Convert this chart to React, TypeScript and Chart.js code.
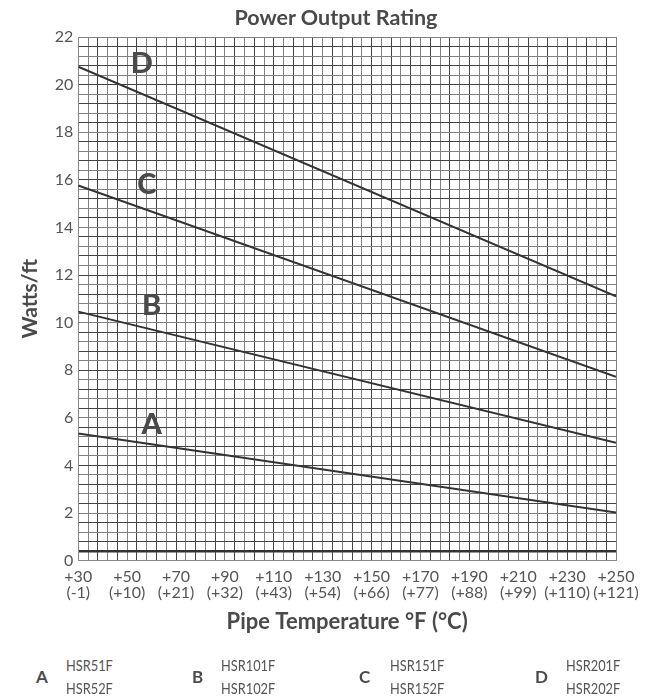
import { useEffect, useRef } from 'react';
import { Chart, registerables } from 'chart.js';
Chart.register(...registerables);

// Data (°F on x, Watts/ft on y) — straight rating lines
const tempF = [30, 250];
const seriesA = [5.34, 2.02];
const seriesB = [10.46, 4.95];
const seriesC = [15.76, 7.72];
const seriesD = [20.75, 11.1];
const seriesNames = ['A', 'B', 'C', 'D'];

// Tick labels
const xTickF = [30, 50, 70, 90, 110, 130, 150, 170, 190, 210, 230, 250];
const xTickC = ['-1', '+10', '+21', '+32', '+43', '+54', '+66', '+77', '+88', '+99', '+110', '+121'];
const yTickLabels = [0, 2, 4, 6, 8, 10, 12, 14, 16, 18, 20, 22];

// In-chart curve letters (data coords)
const letterX = [60, 60, 58, 56];
const letterY = [5.7, 10.7, 15.8, 20.9];

// Legend models
const legendTop = ['HSR51F', 'HSR101F', 'HSR151F', 'HSR201F'];
const legendBottom = ['HSR52F', 'HSR102F', 'HSR152F', 'HSR202F'];

const FONT = 'Lato, "Open Sans", sans-serif';
const TEXT = '#4a4a4a';
const LINE = '#333';

const letterPlugin = {
  id: 'curveLetters',
  afterDatasetsDraw(chart: any) {
    const { ctx, scales } = chart;
    ctx.save();
    ctx.font = `900 29px ${FONT}`;
    ctx.fillStyle = TEXT;
    ctx.textAlign = 'center';
    ctx.textBaseline = 'middle';
    seriesNames.forEach((n, i) => {
      ctx.fillText(n, scales.x.getPixelForValue(letterX[i]), scales.y.getPixelForValue(letterY[i]));
    });
    ctx.restore();
  },
};

function RatingChart() {
  const ref = useRef<HTMLCanvasElement | null>(null);
  useEffect(() => {
    if (!ref.current) return;
    const mk = (vals: number[]) => tempF.map((x, i) => ({ x, y: vals[i] }));
    const chart = new Chart(ref.current, {
      type: 'scatter',
      data: {
        datasets: [seriesA, seriesB, seriesC, seriesD].map((v, i) => ({
          label: seriesNames[i],
          data: mk(v),
          showLine: true,
          borderColor: LINE,
          backgroundColor: LINE,
          borderWidth: 2,
          pointRadius: 0,
        })),
      },
      options: {
        animation: false,
        responsive: true,
        maintainAspectRatio: false,
        layout: { padding: { left: 12, right: 35, top: 37, bottom: 8 } },
        plugins: {
          legend: { display: false },
          tooltip: { enabled: false },
          title: { display: false },
        },
        scales: {
          x: {
            type: 'linear',
            min: 30,
            max: 250,
            afterBuildTicks: (axis: any) => {
              const t = [];
              for (let v = 30; v <= 250; v += 4) t.push({ value: v });
              axis.ticks = t;
            },
            border: { display: true, color: '#888', width: 1 },
            grid: {
              drawTicks: false,
              color: (c: any) => (c.index % 2 === 0 ? '#444' : '#808080'),
              lineWidth: 1,
            },
            ticks: {
              autoSkip: false,
              maxRotation: 0,
              padding: 8,
              color: '#555',
              font: { family: FONT, size: 16, lineHeight: 1.0 },
              callback: (value: any) => {
                const i = xTickF.indexOf(Number(value));
                return i >= 0 ? ['+' + xTickF[i], '(' + xTickC[i] + ')'] : '';
              },
            },
            title: {
              display: true,
              text: 'Pipe Temperature °F (°C)',
              color: TEXT,
              font: { family: FONT, size: 22, weight: 'bold' },
              padding: { top: 0, bottom: 0 },
            },
          },
          y: {
            type: 'linear',
            min: 0,
            max: 22,
            afterBuildTicks: (axis: any) => {
              const t = [];
              for (let i = 0; i <= 55; i++) t.push({ value: Math.round(i * 4) / 10 });
              axis.ticks = t;
            },
            border: { display: true, color: '#888', width: 1 },
            grid: {
              drawTicks: false,
              color: (c: any) => {
                if (c.tick && Math.abs(c.tick.value - 0.4) < 1e-6) return '#333';
                return c.index % 2 === 0 ? '#444' : '#808080';
              },
              lineWidth: (c: any) => (c.tick && Math.abs(c.tick.value - 0.4) < 1e-6 ? 2.5 : 1),
            },
            ticks: {
              autoSkip: false,
              padding: 5,
              color: '#555',
              font: { family: FONT, size: 16 },
              callback: (value: any) => {
                const v = Number(value);
                const hit = yTickLabels.find((t) => Math.abs(t - v) < 1e-6);
                return hit !== undefined ? String(hit) : '';
              },
            },
            title: {
              display: true,
              text: 'Watts/ft',
              color: TEXT,
              font: { family: FONT, size: 21, weight: 'bold' },
              padding: { top: 6, bottom: 6.5 },
            },
          },
        },
      },
      plugins: [letterPlugin],
    } as any);
    return () => chart.destroy();
  }, []);
  return <canvas ref={ref} />;
}

const legendLetterX = [42, 198, 365, 541];
const legendTextX = [66, 221, 390, 566];

const legendTextStyle = {
  position: 'absolute' as const,
  fontSize: 16,
  color: '#555',
  lineHeight: '20px',
  transform: 'scaleX(0.8)',
  transformOrigin: 'left center',
  whiteSpace: 'nowrap' as const,
};

export default function App() {
  return (
    <div style={{ position: 'fixed', left: 0, top: 0, width: 651, height: 697, background: '#fff', fontFamily: FONT }}>
      <div style={{ position: 'absolute', left: 0, top: 0, width: 651, height: 643 }}>
        <RatingChart />
      </div>
      <div
        style={{
          position: 'absolute',
          left: 0,
          top: 4,
          width: 672,
          textAlign: 'center',
          fontWeight: 'bold',
          fontSize: 21.5,
          lineHeight: '26px',
          color: TEXT,
        }}
      >
        Power Output Rating
      </div>
      {seriesNames.map((n, i) => (
        <div key={n}>
          <span
            style={{
              position: 'absolute',
              left: legendLetterX[i] - 6,
              top: 667,
              fontWeight: 'bold',
              fontSize: 17,
              color: TEXT,
              lineHeight: '20px',
            }}
          >
            {n}
          </span>
          <span style={{ ...legendTextStyle, left: legendTextX[i], top: 655 }}>{legendTop[i]}</span>
          <span style={{ ...legendTextStyle, left: legendTextX[i], top: 678 }}>{legendBottom[i]}</span>
        </div>
      ))}
    </div>
  );
}
